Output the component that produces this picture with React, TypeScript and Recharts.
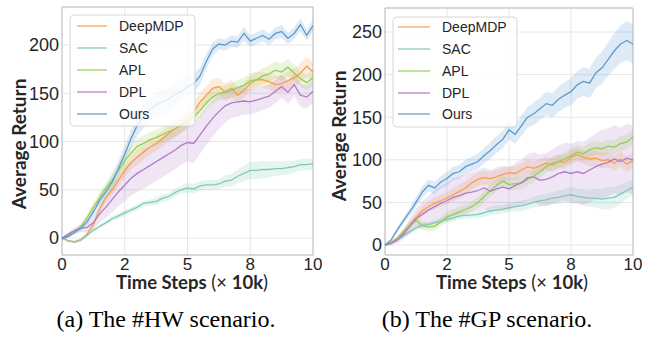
import React from "react";
import {
  ComposedChart, Line, Area, XAxis, YAxis, CartesianGrid, ReferenceArea,
} from "recharts";

// x positions (x 10k time steps)
const steps = [
  0, 0.25, 0.5, 0.75, 1, 1.25, 1.5, 1.75, 2, 2.25,
  2.5, 2.75, 3, 3.25, 3.5, 3.75, 4, 4.25, 4.5, 4.75,
  5, 5.25, 5.5, 5.75, 6, 6.25, 6.5, 6.75, 7, 7.25,
  7.5, 7.75, 8, 8.25, 8.5, 8.75, 9, 9.25, 9.5, 9.75, 10,
];
const xTicks = [0, 2.5, 5, 7.5, 10];
const xTickLabels = ["0", "2", "5", "8", "10"];
const hwYTicks = [0, 50, 100, 150, 200];
const gpYTicks = [0, 50, 100, 150, 200, 250];
const methods = ["DeepMDP", "SAC", "APL", "DPL", "Ours"];

// (a) #HW scenario: means
const hwDeepMDP = [0, -3, -4, -2, 4, 14, 30, 42, 50, 60, 70, 78, 84, 89, 94, 98, 103, 108, 113, 118, 124, 131, 141, 148, 155, 157, 151, 155, 148, 153, 160, 164, 164, 162, 159, 160, 163, 166, 171, 178, 172];
const hwSAC = [0, -3, -4, -2, 3, 8, 12, 16, 20, 23, 26, 29, 32, 36, 37, 38, 41, 43, 47, 50, 52, 51, 54, 55, 55, 56, 59, 60, 64, 67, 70, 70, 71, 71, 72, 72, 73, 74, 76, 76, 77];
const hwAPL = [0, 2, 6, 12, 21, 32, 42, 52, 60, 70, 80, 88, 95, 98, 102, 104, 107, 110, 113, 117, 120, 126, 132, 140, 146, 150, 151, 153, 156, 158, 163, 164, 168, 170, 174, 172, 177, 171, 165, 161, 166];
const hwDPL = [0, 4, 8, 10, 11, 16, 25, 32, 40, 48, 55, 62, 67, 71, 75, 79, 83, 87, 91, 96, 99, 98, 107, 116, 124, 131, 137, 140, 141, 142, 141, 143, 145, 147, 152, 157, 151, 159, 148, 146, 152];
const hwOurs = [-1, 2, 6, 10, 17, 27, 39, 48, 58, 72, 87, 103, 117, 126, 133, 138, 141, 144, 149, 152, 157, 160, 168, 183, 196, 201, 200, 204, 203, 212, 204, 207, 210, 206, 212, 214, 207, 212, 221, 210, 220];

// (a) #HW scenario: half-width of shaded bands
const hwDeepMDPSpread = [1, 1, 2, 2, 3, 4, 5, 5, 6, 6, 7, 7, 8, 8, 8, 8, 8, 8, 9, 9, 9, 10, 10, 10, 10, 9, 9, 9, 8, 8, 8, 8, 8, 8, 9, 9, 10, 10, 10, 10, 10];
const hwSACSpread = [1, 1, 1, 1, 2, 2, 2, 2, 3, 3, 3, 3, 3, 3, 3, 4, 4, 4, 4, 4, 5, 5, 5, 5, 5, 5, 6, 6, 7, 8, 9, 9, 9, 8, 8, 7, 7, 6, 6, 6, 6];
const hwAPLSpread = [1, 2, 2, 3, 4, 5, 6, 6, 7, 7, 8, 8, 8, 8, 8, 8, 8, 8, 8, 8, 7, 7, 7, 7, 7, 7, 7, 8, 8, 8, 8, 8, 8, 9, 9, 9, 9, 8, 8, 8, 8];
const hwDPLSpread = [1, 2, 3, 4, 5, 7, 9, 11, 13, 15, 17, 18, 19, 20, 20, 20, 20, 20, 20, 20, 20, 20, 20, 19, 19, 18, 17, 16, 15, 14, 13, 13, 12, 12, 12, 12, 12, 12, 12, 12, 12];
const hwOursSpread = [1, 2, 2, 3, 3, 4, 5, 6, 7, 8, 9, 10, 11, 12, 12, 13, 13, 12, 12, 11, 10, 10, 9, 8, 7, 6, 6, 6, 6, 7, 6, 6, 6, 6, 6, 7, 6, 6, 7, 6, 6];

// (b) #GP scenario: means
const gpDeepMDP = [0, 3, 8, 16, 24, 32, 40, 45, 49, 52, 55, 59, 63, 67, 73, 77, 79, 78, 80, 83, 85, 84, 88, 92, 90, 93, 96, 94, 98, 97, 103, 106, 103, 101, 102, 99, 100, 96, 101, 95, 99];
const gpSAC = [0, 2, 6, 11, 16, 20, 23, 24, 26, 28, 30, 32, 34, 35, 35, 36, 38, 40, 41, 42, 44, 45, 46, 48, 50, 52, 53, 55, 56, 58, 59, 57, 56, 55, 55, 54, 55, 56, 60, 64, 68];
const gpAPL = [0, 3, 8, 15, 23, 29, 23, 21, 22, 27, 33, 36, 39, 42, 45, 50, 57, 64, 70, 75, 71, 72, 73, 77, 81, 86, 92, 96, 98, 101, 105, 109, 107, 112, 114, 113, 116, 115, 119, 121, 127];
const gpDPL = [0, 2, 6, 13, 22, 31, 36, 41, 45, 49, 52, 56, 58, 61, 62, 64, 67, 63, 66, 68, 66, 70, 73, 79, 80, 76, 77, 80, 84, 86, 84, 86, 84, 88, 92, 95, 97, 101, 98, 102, 100];
const gpOurs = [0, 6, 18, 29, 39, 50, 62, 70, 67, 74, 78, 84, 86, 92, 95, 98, 105, 111, 118, 124, 135, 130, 140, 150, 154, 160, 166, 164, 171, 176, 180, 188, 192, 190, 202, 208, 218, 228, 236, 240, 236];

// (b) #GP scenario: half-width of shaded bands
const gpDeepMDPSpread = [1, 2, 2, 3, 4, 5, 6, 6, 7, 7, 7, 8, 8, 8, 8, 8, 8, 8, 8, 8, 8, 8, 8, 8, 8, 8, 8, 8, 8, 8, 8, 8, 8, 9, 9, 9, 9, 9, 9, 9, 9];
const gpSACSpread = [1, 1, 2, 2, 3, 3, 3, 3, 3, 3, 4, 4, 4, 4, 4, 4, 5, 5, 5, 5, 5, 6, 6, 6, 6, 7, 7, 7, 8, 8, 9, 9, 10, 10, 11, 12, 13, 12, 11, 10, 9];
const gpAPLSpread = [1, 2, 2, 3, 4, 5, 5, 5, 5, 5, 6, 6, 6, 6, 6, 6, 7, 7, 7, 7, 7, 7, 7, 7, 7, 7, 7, 8, 8, 8, 8, 8, 8, 8, 8, 8, 8, 8, 9, 9, 9];
const gpDPLSpread = [1, 2, 4, 6, 9, 12, 15, 17, 19, 20, 21, 22, 22, 23, 23, 24, 24, 25, 25, 25, 25, 26, 27, 28, 29, 30, 31, 32, 33, 34, 35, 36, 37, 38, 39, 40, 40, 40, 40, 40, 40];
const gpOursSpread = [1, 2, 3, 4, 5, 6, 7, 7, 7, 7, 8, 8, 8, 8, 9, 9, 9, 10, 10, 10, 11, 11, 12, 12, 13, 13, 14, 14, 15, 15, 16, 16, 17, 17, 18, 19, 20, 21, 22, 23, 23];

const colors: Record<string, string> = {
  DeepMDP: "#f6a04d",
  SAC: "#7fcab6",
  APL: "#99cc55",
  DPL: "#b07cc6",
  Ours: "#5b9bd0",
};

const tickFont = "'Liberation Sans', Arial, sans-serif";
const titleFont = "Lato, 'Open Sans', sans-serif";

function buildRows(means: number[][], spreads: number[][]) {
  return steps.map((x, i) => {
    const row: any = { x };
    methods.forEach((m, k) => {
      row[m] = means[k][i];
      row[m + "_band"] = [means[k][i] - spreads[k][i], means[k][i] + spreads[k][i]];
    });
    return row;
  });
}

const hwRows = buildRows(
  [hwDeepMDP, hwSAC, hwAPL, hwDPL, hwOurs],
  [hwDeepMDPSpread, hwSACSpread, hwAPLSpread, hwDPLSpread, hwOursSpread],
);
const gpRows = buildRows(
  [gpDeepMDP, gpSAC, gpAPL, gpDPL, gpOurs],
  [gpDeepMDPSpread, gpSACSpread, gpAPLSpread, gpDPLSpread, gpOursSpread],
);

interface PanelProps {
  rows: any[];
  yTicks: number[];
  yDomain: [number, number];
  width: number;
  yAxisWidth: number;
  margin: { top: number; right: number; left: number; bottom: number };
}

function Panel({ rows, yTicks, yDomain, width, yAxisWidth, margin }: PanelProps) {
  return (
    <ComposedChart width={width} height={290} data={rows} margin={margin}>
      <CartesianGrid stroke="#e6e6e6" strokeWidth={1} />
      <XAxis
        dataKey="x" type="number" domain={[0, 10]} ticks={xTicks} interval={0}
        tickFormatter={(v) => xTickLabels[xTicks.indexOf(v)]}
        height={35} axisLine={false} tickLine={false} tickSize={0} tickMargin={3}
        tick={{ fill: "#262626", fontSize: 17, fontFamily: tickFont }}
      />
      <YAxis
        type="number" domain={yDomain} ticks={yTicks} interval={0} allowDataOverflow
        width={yAxisWidth} axisLine={false} tickLine={false} tickSize={0} tickMargin={3}
        tick={{ fill: "#262626", fontSize: 18, fontFamily: tickFont }}
      />
      {methods.map((m) => (
        <Area
          key={m + "_band"} dataKey={m + "_band"} type="linear"
          stroke="none" fill={colors[m]} fillOpacity={0.2}
          activeDot={false} isAnimationActive={false}
        />
      ))}
      {methods.map((m) => (
        <Line
          key={m} dataKey={m} type="linear" stroke={colors[m]} strokeWidth={1.3}
          dot={false} activeDot={false} isAnimationActive={false}
        />
      ))}
      <ReferenceArea
        x1={0} x2={10} y1={yDomain[0]} y2={yDomain[1]}
        fill="none" stroke="#bdbdbd" strokeWidth={1} ifOverflow="visible"
      />
    </ComposedChart>
  );
}

function LegendBox({ x, y, w, h, lineX0, lineX1, textX, rowYs }: {
  x: number; y: number; w: number; h: number;
  lineX0: number; lineX1: number; textX: number; rowYs: number[];
}) {
  return (
    <g>
      <rect x={x} y={y} width={w} height={h} rx={4} fill="#fff" fillOpacity={0.8} stroke="#d6d6d6" />
      {methods.map((m, i) => (
        <g key={m}>
          <line x1={lineX0} x2={lineX1} y1={rowYs[i]} y2={rowYs[i]} stroke={colors[m]} strokeOpacity={0.8} strokeWidth={1.5} />
          <text x={textX} y={rowYs[i] + 5} fontSize={14} fontFamily={tickFont} fill="#262626">{m}</text>
        </g>
      ))}
    </g>
  );
}

function XTitle({ cx }: { cx: number }) {
  return (
    <text x={cx} y={289} textAnchor="middle" fontFamily={titleFont} fontSize={18.5} fill="#262626" style={{ whiteSpace: "pre" }}>
      <tspan fontWeight={700}>Time Steps</tspan>
      <tspan fontWeight={400}> (× </tspan>
      <tspan fontWeight={700}>10k</tspan>
      <tspan fontWeight={400}>)</tspan>
    </text>
  );
}

function YTitle({ x, cy }: { x: number; cy: number }) {
  return (
    <text transform={`translate(${x},${cy}) rotate(-90)`} textAnchor="middle" fontFamily={titleFont} fontWeight={700} fontSize={19} fill="#262626">
      Average Return
    </text>
  );
}

export default function App() {
  return (
    <div style={{ position: "absolute", left: 0, top: 0, width: 659, height: 337, background: "#fff", overflow: "hidden" }}>
      <div style={{ position: "absolute", left: 0, top: 0 }}>
        <Panel rows={hwRows} yTicks={hwYTicks} yDomain={[-17.6, 239.4]} width={330} yAxisWidth={62}
          margin={{ top: 7, right: 17, left: 0, bottom: 0 }} />
      </div>
      <div style={{ position: "absolute", left: 330, top: 0 }}>
        <Panel rows={gpRows} yTicks={gpYTicks} yDomain={[-11.7, 278.2]} width={329} yAxisWidth={55}
          margin={{ top: 8, right: 26, left: 0, bottom: 0 }} />
      </div>
      <svg width={659} height={337} style={{ position: "absolute", left: 0, top: 0, pointerEvents: "none" }}>
        <LegendBox x={70} y={15} w={125} h={111} lineX0={77} lineX1={107} textX={119} rowYs={[26, 48, 70, 92, 114]} />
        <LegendBox x={393} y={17} w={124} h={110} lineX0={398} lineX1={430} textX={442} rowYs={[27, 49, 71, 93, 114]} />
        <YTitle x={26} cy={144} />
        <YTitle x={346} cy={136} />
        <XTitle cx={192} />
        <XTitle cx={512} />
        <text x={166} y={327} textAnchor="middle" fontFamily="'Liberation Serif', 'Times New Roman', serif" fontSize={24} fill="#000">
          (a) The #HW scenario.
        </text>
        <text x={487} y={327} textAnchor="middle" fontFamily="'Liberation Serif', 'Times New Roman', serif" fontSize={24} fill="#000">
          (b) The #GP scenario.
        </text>
      </svg>
    </div>
  );
}
